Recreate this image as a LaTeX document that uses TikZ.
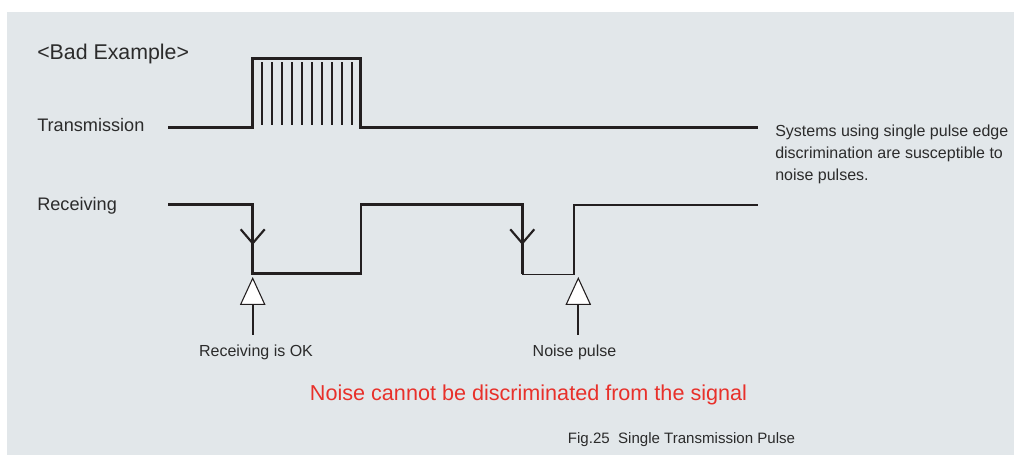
\documentclass[tikz,border=0pt]{standalone}
\usepackage{fontspec}
\setmainfont{Liberation Sans}
\definecolor{panel}{HTML}{E2E7EA}
\definecolor{ink}{HTML}{231F20}
\definecolor{txt}{HTML}{2B2B2B}
\definecolor{warn}{HTML}{E8302A}
\begin{document}
\begin{tikzpicture}[x=0.75pt,y=-0.75pt,
  sigthick/.style={draw=ink,line width=1.9pt,line join=miter},
  sigthin/.style={draw=ink,line width=1.1pt,line join=miter},
  hatch/.style={draw=ink,line width=1.6pt},
  vmark/.style={draw=ink,line width=1.6pt,line join=miter},
  tri/.style={draw=ink,fill=white,line width=0.8pt,line join=miter},
  stem/.style={draw=ink,line width=1.5pt},
  lblbig/.style={text=txt,inner sep=0pt,font=\fontsize{13.6}{16}\selectfont},
  lblsmall/.style={text=txt,inner sep=0pt,font=\fontsize{12}{14}\selectfont}]
\useasboundingbox (0,0) rectangle (1014,455);
\fill[white] (0,0) rectangle (1014,455);
\fill[panel] (7,12) rectangle (1014,455);

% texts
\node[lblbig,anchor=base west,font=\fontsize{16}{18}\selectfont] (bad) at (37,59.5) {<Bad Example>};
\node[lblbig,anchor=base west] (tx) at (37,131.7) {Transmission};
\node[lblbig,anchor=base west] (rx) at (37,210) {Receiving};
\node[lblsmall,anchor=base west] (r1) at (775,136) {Systems using single pulse edge};
\node[lblsmall,anchor=base west] (r2) at (775,158) {discrimination are susceptible to};
\node[lblsmall,anchor=base west] (r3) at (775,180) {noise pulses.};
\node[lblsmall,anchor=base] (ok) at (256,356.7) {Receiving is OK};
\node[lblsmall,anchor=base] (np) at (574.5,356.7) {Noise pulse};
\node[inner sep=0pt,anchor=base,text=warn,font=\fontsize{16.2}{18}\selectfont] (msg) at (528.5,400.5) {Noise cannot be discriminated from the signal};
\node[lblsmall,anchor=base,font=\fontsize{11.3}{13}\selectfont] (cap) at (681.5,443) {Fig.25\ \ Single Transmission Pulse};

% transmission signal
\coordinate (t0) at (168,127.3);
\coordinate (t1) at (252.7,127.3);
\coordinate (t2) at (252.7,58.3);
\coordinate (t3) at (360.7,58.3);
\coordinate (t4) at (360.7,127.3);
\coordinate (t5) at (758,127.3);
\draw[sigthick] (t0) -- (t1) -- (t2) -- (t3) -- (t4) -- (t5);
\foreach \k in {0,...,9}{
  \draw[hatch] (261.7+10*\k,62) -- (261.7+10*\k,125);
}

% receiving signal
\coordinate (r0) at (168,204.7);
\coordinate (ra) at (252.7,204.7);
\coordinate (rb) at (252.7,273.3);
\coordinate (rc) at (361,273.3);
\coordinate (rd) at (361,204.3);
\coordinate (re) at (522.3,204.3);
\coordinate (rf) at (522.3,274.3);
\coordinate (rg) at (574,274.3);
\coordinate (rh) at (574,204.9);
\coordinate (ri) at (758,204.9);
\draw[sigthick] (r0) -- (ra) -- (rb) -- (rc) -- (rd) -- (re) -- (rf);
\draw[sigthin] (rf) -- (rg) -- (rh) -- (ri);

% falling-edge marks
\draw[vmark] (240.7,229.3) -- (252.7,243.3) -- (264.7,229.3);
\draw[vmark] (510.3,229.3) -- (522.3,243.3) -- (534.3,229.3);

% hollow up arrows
\draw[tri] (252.7,278.3) -- (240.7,304.3) -- (264.7,304.3) -- cycle;
\draw[stem] (252.7,304.3) -- (252.7,335);
\draw[tri] (578.3,278.3) -- (566.3,304.3) -- (590.3,304.3) -- cycle;
\draw[stem] (578.3,304.3) -- (578.3,335);
\end{tikzpicture}
\end{document}
